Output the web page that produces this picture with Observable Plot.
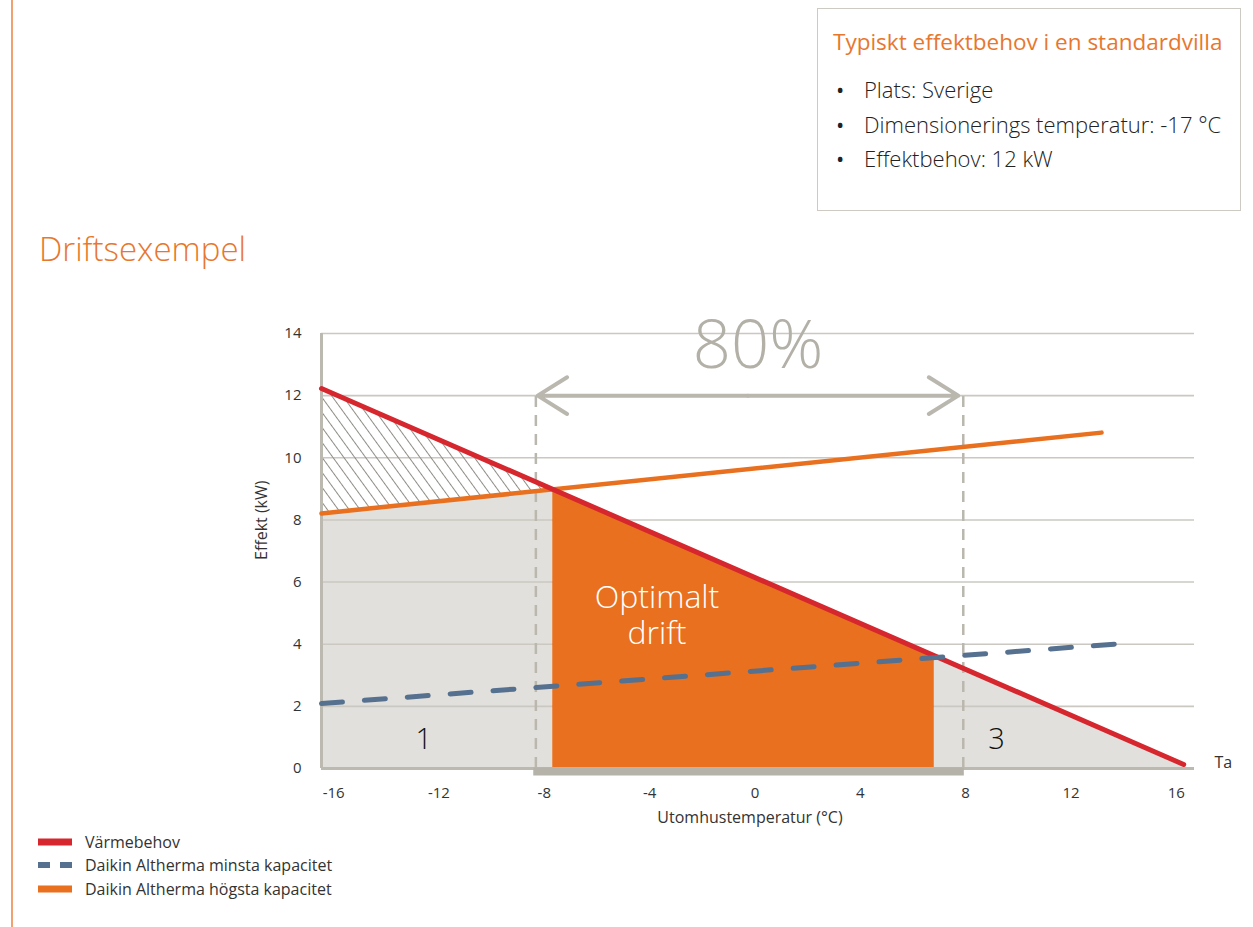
<!DOCTYPE html>
<html>
<head>
<meta charset="utf-8">
<script src="https://cdn.jsdelivr.net/npm/d3@7"></script>
<script src="https://cdn.jsdelivr.net/npm/@observablehq/plot@0.6"></script>
<style>
  html, body { margin: 0; padding: 0; background: #fff; }
  body { width: 1253px; height: 927px; position: relative; overflow: hidden; font-family: "Open Sans", sans-serif; color: #222; }
  #chart { position: absolute; left: 0; top: 0; }
  .vline { position: absolute; left: 11px; top: 0; width: 1.5px; height: 927px; background: #f2a070; }
  .title { position: absolute; left: 39px; top: 226px; font-size: 33px; font-weight: 300; color: #e8772e; }
  .box { position: absolute; left: 817px; top: 8px; width: 424px; height: 203px; border: 1px solid #cdcac3; box-sizing: border-box; }
  .box h3 { position: absolute; left: 15px; top: 17px; margin: 0; font-size: 22.5px; font-weight: 400; color: #e8772e; white-space: nowrap; }
  .box ul { position: absolute; left: 18px; top: 63px; margin: 0; padding: 0; list-style: none; }
  .box li { font-size: 22px; line-height: 34.5px; font-weight: 300; color: #222; white-space: nowrap; position: relative; padding-left: 28px; }
  .box li::before { content: "•"; position: absolute; left: 0; top: 0; font-size: 22px; font-weight: 400; }
  .legend { position: absolute; left: 38px; top: 830px; font-size: 16px; color: #333; }
  .legend div { height: 23.5px; display: flex; align-items: center; white-space: nowrap; }
  .legend svg { margin-right: 13px; }
</style>
</head>
<body>
<div class="vline"></div>
<div class="title">Driftsexempel</div>
<div class="box">
  <h3>Typiskt effektbehov i en standardvilla</h3>
  <ul id="facts"></ul>
</div>
<div id="chart"></div>
<div class="legend" id="legend"></div>
<script>
// ---------- data ----------
const tempTicks = [-16, -12, -8, -4, 0, 4, 8, 12, 16];
const kwTicks = [0, 2, 4, 6, 8, 10, 12, 14];
const tempDomain = [-16.46, 16.69];
const kwDomain = [0, 14];

// Värmebehov (heat demand)
const demandTemp = [-16.46, 16.28];
const demandKW = [12.23, 0.13];
// Daikin Altherma högsta kapacitet
const maxCapTemp = [-16.46, 13.16];
const maxCapKW = [8.21, 10.81];
// Daikin Altherma minsta kapacitet
const minCapTemp = [-16.46, 13.92];
const minCapKW = [2.09, 4.02];

// zones
const zone1Temp = [-16.46, -7.68];
const zone1Top = [8.21, 8.95];
const hatchTop = [12.23, 8.95];
const optimalTemp = [-7.68, 6.81];
const optimalTop = [8.95, 3.64];
const zone3Temp = [6.81, 16.28];
const zone3Top = [3.64, 0.13];

// 80 % range
const rangeTemp = [-8.32, 7.91];
const rangeTopKW = 12.0;
const arrowTemp = [-8.25, 7.72];
const barTemp = [-8.4, 7.95];

// annotations
const zoneLabels = ["1", "3"];
const zoneLabelTemp = [-12.58, 9.17];
const zoneLabelKW = [0.92, 0.92];
const bigLabel = "80%";
const bigLabelPos = [0.12, 13.58];
const optimalLabel = "Optimalt\ndrift";
const optimalLabelPos = [-3.72, 4.95];

const legendLabels = ["Värmebehov", "Daikin Altherma minsta kapacitet", "Daikin Altherma högsta kapacitet"];
const factLines = ["Plats: Sverige", "Dimensionerings temperatur: -17 °C", "Effektbehov: 12 kW"];

// ---------- colours ----------
const RED = "#d6262e", ORANGE = "#e8701f", BLUE = "#56708f", GRAYFILL = "#e2e0dc",
      GRID = "#cbc8c1", AXIS = "#bcb9b1", BAR = "#b5b2aa", ARROW = "#bab7ae";

const pts = (xs, ys) => xs.map((x, i) => ({x, y: ys[i]}));
const band = (xs, y1s, y2s) => xs.map((x, i) => ({x, y1: y1s[i], y2: y2s[i]}));

const plot = Plot.plot({
  width: 1253,
  height: 927,
  marginLeft: 321,
  marginRight: 59,
  marginTop: 333,
  marginBottom: 159,
  x: {domain: tempDomain},
  y: {domain: kwDomain},
  style: {fontFamily: "Open Sans, sans-serif", fontSize: "15px", color: "#333", background: "transparent", overflow: "visible"},
  marks: [
    Plot.areaY(pts(zone1Temp, zone1Top), {x: "x", y: "y", fill: GRAYFILL}),
    Plot.areaY(pts(zone3Temp, zone3Top), {x: "x", y: "y", fill: GRAYFILL}),
    Plot.gridY({ticks: kwTicks.filter(d => d > 0), stroke: GRID, strokeOpacity: 1, strokeWidth: 1.6}),
    Plot.areaY(pts(optimalTemp, optimalTop), {x: "x", y: "y", fill: ORANGE}),
    Plot.areaY(band(zone1Temp, zone1Top, hatchTop), {x: "x", y1: "y1", y2: "y2", fill: "url(#hatch)"}),
    Plot.ruleX(rangeTemp, {x: d => d, y1: 0, y2: rangeTopKW, stroke: ARROW, strokeWidth: 2.5, strokeDasharray: "11,8"}),
    Plot.ruleX([tempDomain[0]], {y1: kwDomain[0], y2: kwDomain[1], stroke: AXIS, strokeWidth: 3}),
    Plot.ruleY([0], {x1: tempDomain[0], x2: tempDomain[1], stroke: AXIS, strokeWidth: 3}),
    Plot.ruleY([0], {x1: barTemp[0], x2: barTemp[1], stroke: BAR, strokeWidth: 8, dy: 3}),
    Plot.axisX({ticks: tempTicks, tickSize: 0, tickPadding: 19, tickFormat: d => String(d), label: null, fill: "#333", fontSize: 15}),
    Plot.axisY({ticks: kwTicks, tickSize: 0, tickPadding: 20, label: null, fill: "#333", fontSize: 15}),
    Plot.text(["Effekt (kW)"], {frameAnchor: "left", rotate: -90, dx: -60, dy: 9, fill: "#333", fontSize: 16}),
    Plot.text(["Utomhustemperatur (°C)"], {frameAnchor: "bottom", dy: 54, dx: -8, fill: "#333", fontSize: 16}),
    Plot.text(["Ta"], {frameAnchor: "bottom-right", textAnchor: "start", dx: 20, dy: -1, fill: "#333", fontSize: 16}),
    Plot.arrow([0, 1], {x1: () => (arrowTemp[0] + arrowTemp[1]) / 2, y1: rangeTopKW, x2: i => arrowTemp[i], y2: rangeTopKW,
      stroke: ARROW, strokeWidth: 4, headLength: 13, headAngle: 64}),
    Plot.line(pts(maxCapTemp, maxCapKW), {x: "x", y: "y", stroke: ORANGE, strokeWidth: 4.5}),
    Plot.line(pts(demandTemp, demandKW), {x: "x", y: "y", stroke: RED, strokeWidth: 5}),
    Plot.line(pts(minCapTemp, minCapKW), {x: "x", y: "y", stroke: BLUE, strokeWidth: 5, strokeDasharray: "21,22"}),
    Plot.text([bigLabel], {x: bigLabelPos[0], y: bigLabelPos[1], fill: "#b3b0a7", fontSize: 67, fontWeight: 300}),
    Plot.text([optimalLabel], {x: optimalLabelPos[0], y: optimalLabelPos[1], fill: "#fff", fontSize: 32, fontWeight: 300, lineHeight: 1.13}),
    Plot.text(zoneLabels, {x: (d, i) => zoneLabelTemp[i], y: (d, i) => zoneLabelKW[i], fill: "#111", fontSize: 29, fontWeight: 300})
  ]
});

// hatch pattern for the area between demand and max capacity
const svg = d3.select(plot);
const defs = svg.insert("defs", ":first-child");
const pat = defs.append("pattern").attr("id", "hatch").attr("patternUnits", "userSpaceOnUse")
  .attr("width", 8.8).attr("height", 20).attr("patternTransform", "rotate(-36)");
pat.append("line").attr("x1", 0.5).attr("y1", 0).attr("x2", 0.5).attr("y2", 20)
  .attr("stroke", "#8f8c85").attr("stroke-width", 1);

document.getElementById("chart").appendChild(plot);

// facts box
const ul = document.getElementById("facts");
factLines.forEach(t => { const li = document.createElement("li"); li.textContent = t; ul.appendChild(li); });

// legend
const legend = document.getElementById("legend");
const swatches = [
  `<svg width="34" height="8"><line x1="0" y1="4" x2="34" y2="4" stroke="${RED}" stroke-width="7"/></svg>`,
  `<svg width="34" height="8"><line x1="0" y1="4" x2="34" y2="4" stroke="${BLUE}" stroke-width="6" stroke-dasharray="12,10"/></svg>`,
  `<svg width="34" height="8"><line x1="0" y1="4" x2="34" y2="4" stroke="${ORANGE}" stroke-width="7"/></svg>`
];
legendLabels.forEach((t, i) => {
  const row = document.createElement("div");
  row.innerHTML = swatches[i] + `<span>${t}</span>`;
  legend.appendChild(row);
});
</script>
</body>
</html>
